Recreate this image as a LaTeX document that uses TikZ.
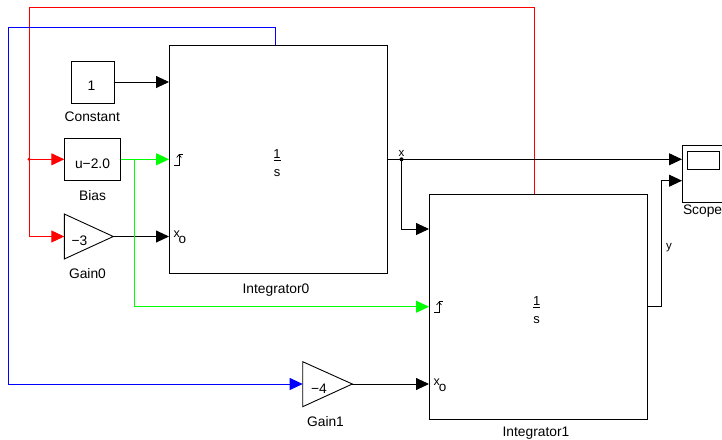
\documentclass[tikz,border=0pt]{standalone}
\usepackage{fontspec}
\setmainfont{Liberation Sans}
\usetikzlibrary{arrows.meta,calc}
\begin{document}
\begin{tikzpicture}[x=1pt,y=-1pt,
  blk/.style={draw=black,line width=0.9pt,inner sep=0pt,outer sep=0pt,anchor=north west},
  wire/.style={line width=0.9pt},
  arr/.style={-{Triangle[length=13pt,width=12pt]}},
  txt/.style={font=\fontsize{13.8}{16}\selectfont,anchor=base,inner sep=0pt,outer sep=0pt},
  small/.style={font=\fontsize{11.5}{13}\selectfont,anchor=base,inner sep=0pt,outer sep=0pt},
  rst/.pic={
    \draw[line width=0.7pt] (5,6) -- (10,6) -- (10,-5) -- (14,-5);
    \draw[line width=0.7pt] (7.6,-1.8) -- (10,-4.6) -- (12.4,-1.8);
  },
  xo/.pic={
    \node[font=\fontsize{12.5}{14}\selectfont,anchor=base,inner sep=0pt] at (7.7,1) {x};
    \node[font=\fontsize{13.5}{15}\selectfont,anchor=base,inner sep=0pt] at (13.5,7) {o};
  },
  frac/.pic={
    \node[font=\fontsize{13}{15}\selectfont,anchor=base,inner sep=0pt] at (0,0) {1};
    \draw[line width=0.7pt] (-3.5,2.2) -- (3.5,2.2);
    \node[font=\fontsize{13}{15}\selectfont,anchor=base,inner sep=0pt] at (0,18.1) {s};
  }]
\useasboundingbox (0,0) rectangle (722,439);

% ---- blocks ----
\node[blk,minimum width=43pt,minimum height=42pt] (const) at (71,61) {};
\node[txt] at (91.5,90.7) {1};
\node[txt] at (92.3,121.7) {Constant};

\node[blk,minimum width=56.4pt,minimum height=42pt] (bias) at (64.3,138.3) {};
\node[txt] at (92.5,168.3) {u−2.0};
\node[txt] at (92.5,200.7) {Bias};

\draw[line width=0.9pt] (64.3,214) -- (64.3,259) -- (113.3,236.5) -- cycle;
\coordinate (g0in) at (64.3,236.5);
\coordinate (g0out) at (113.3,236.5);
\node[txt] at (79.5,245) {−3};
\node[txt] at (87.5,278) {Gain0};

\draw[line width=0.9pt] (302.7,361.7) -- (302.7,406.7) -- (352.3,384) -- cycle;
\coordinate (g1in) at (302.7,384);
\coordinate (g1out) at (352.3,384);
\node[txt] at (319,393.3) {−4};
\node[txt] at (325.5,426.5) {Gain1};

\node[blk,minimum width=218pt,minimum height=228pt] (int0) at (169,45) {};
\node[txt] at (276,293.3) {Integrator0};
\pic at (277,158.5) {frac};

\node[blk,minimum width=218pt,minimum height=225pt] (int1) at (429,194) {};
\node[txt] at (536,436) {Integrator1};
\pic at (536.7,305) {frac};

\node[blk,minimum width=60pt,minimum height=57.7pt] (scope) at (682,145) {};
\draw[line width=0.9pt] (687.3,151.7) rectangle (719.3,169.3);
\node[txt,anchor=base west] at (683,214) {Scope};

% ---- ports ----
\coordinate (i0in)  at (169,82);
\coordinate (i0r)   at (169,159.3);
\coordinate (i0x)   at (169,236.5);
\coordinate (i0s)   at (275,45);
\coordinate (i0out) at (387,159.3);
\coordinate (i1in)  at (429,229);
\coordinate (i1r)   at (429,306.7);
\coordinate (i1x)   at (429,384);
\coordinate (i1s)   at (534.5,194);
\coordinate (i1out) at (647,306.7);
\coordinate (sc1)   at (682,159.3);
\coordinate (sc2)   at (682,180.7);
\coordinate (rj)    at (29,159.3);
\coordinate (gj)    at (134,159.3);
\coordinate (xj)    at (401.5,159.3);

\pic at (i0r) {rst};
\pic at (i1r) {rst};
\pic at (i0x) {xo};
\pic at (i1x) {xo};

% ---- signals ----
\draw[wire,arr] (const.east) -- (i0in);
\draw[wire,arr] (g0out) -- (i0x);
\draw[wire,arr] (g1out) -- (i1x);

% state of Integrator1 fed back (red)
\draw[wire,red,arr] (i1s) |- (29,7) |- (g0in);
\draw[wire,red,arr] (rj) -- (bias.west);
\fill[red] (rj) circle (1.6pt);

% reset signal (green)
\draw[wire,green,arr] (bias.east) -- (i0r);
\draw[wire,green,arr] (gj) |- (i1r);

% state of Integrator0 fed back (blue)
\draw[wire,blue,arr] (i0s) |- (8,27) |- (g1in);

% outputs
\draw[wire,arr] (i0out) -- (sc1);
\draw[wire,arr] (xj) |- (i1in);
\fill (xj) circle (2pt);
\node[small] at (401.5,156.7) {x};
\draw[wire,arr] (i1out) -- (661,306.7) |- (sc2);
\node[small] at (669,249) {y};
\end{tikzpicture}
\end{document}
